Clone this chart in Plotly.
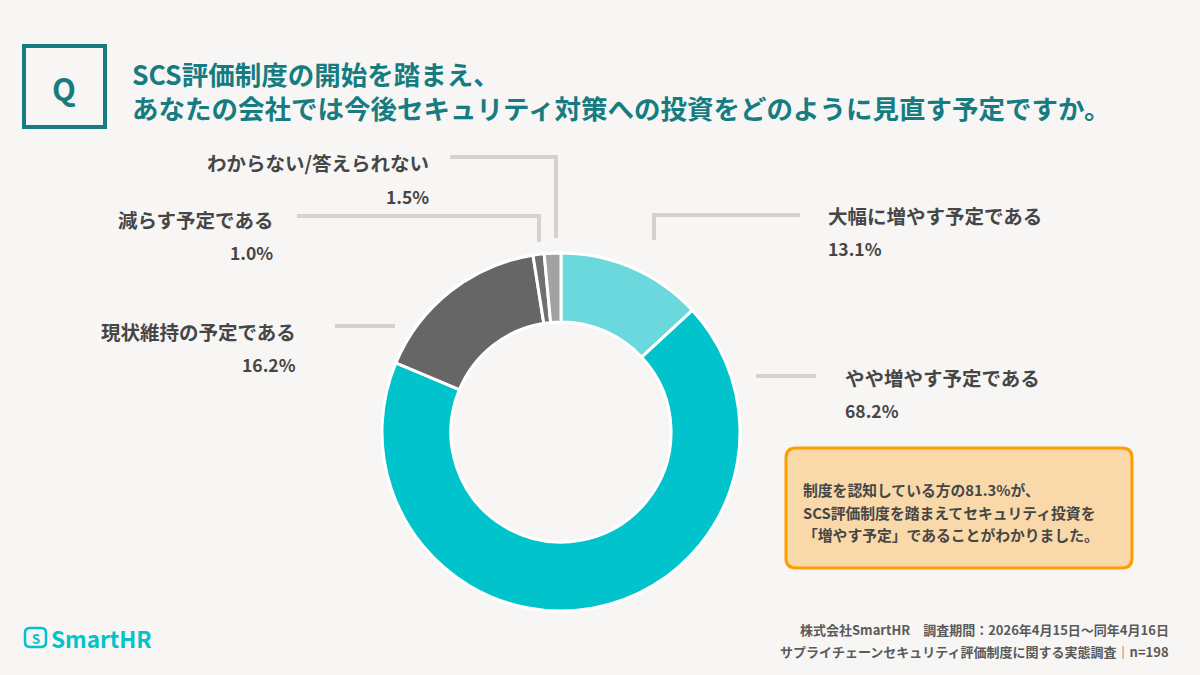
import plotly.graph_objects as go

# data (clockwise from 12 o'clock)
categories = ["大幅に増やす予定である", "やや増やす予定である", "現状維持の予定である",
              "減らす予定である", "わからない/答えられない"]
values = [13.1, 68.2, 16.2, 1.0, 1.5]
colors = ["#6AD8DC", "#00C3CC", "#666666", "#6F6F6F", "#A2A2A2"]
pct_labels = ["13.1%", "68.2%", "16.2%", "1.0%", "1.5%"]

title_lines = ["SCS評価制度の開始を踏まえ、",
               "あなたの会社では今後セキュリティ対策への投資をどのように見直す予定ですか。"]
note_lines = ["制度を認知している方の81.3%が、",
              "SCS評価制度を踏まえてセキュリティ投資を",
              "「増やす予定」であることがわかりました。"]
footer_lines = ["株式会社SmartHR　調査期間：2026年4月15日～同年4月16日",
                "サプライチェーンセキュリティ評価制度に関する実態調査｜n=198"]

W, H = 1200, 675
FONT = "Noto Sans CJK JP"
TEAL = "#167C82"
TEXT = "#464646"
LINE = "#D4D2CF"

fig = go.Figure(go.Pie(
    labels=categories,
    values=values,
    sort=False,
    direction="clockwise",
    rotation=0,
    hole=0.615,
    textinfo="none",
    hoverinfo="label+percent",
    marker=dict(colors=colors, line=dict(color="white", width=3)),
    domain=dict(x=[382 / W, 740 / W], y=[1 - 611 / H, 1 - 253 / H]),
    showlegend=False,
))

shapes = []
annotations = []


def label(x, y, text, size, color, anchor="center"):
    annotations.append(dict(x=x, y=y, xref="x", yref="y", xanchor=anchor, yanchor="middle",
                            text="<b>" + text + "</b>", showarrow=False, align=anchor
                            if anchor != "center" else "center",
                            font=dict(family=FONT, size=size, color=color)))


def rounded(x0, y0, x1, y1, r):
    return (f"M {x0 + r},{y0} L {x1 - r},{y0} Q {x1},{y0} {x1},{y0 + r} "
            f"L {x1},{y1 - r} Q {x1},{y1} {x1 - r},{y1} L {x0 + r},{y1} "
            f"Q {x0},{y1} {x0},{y1 - r} L {x0},{y0 + r} Q {x0},{y0} {x0 + r},{y0} Z")


# Q box
shapes.append(dict(type="rect", xref="x", yref="y", x0=24, x1=105, y0=46, y1=127,
                   line=dict(color=TEAL, width=4)))
label(64, 87, "Q", 31, TEAL)

# two-line question as one block
label(130, 90.5, "<br>".join(title_lines), 26.5, TEAL, "left")

# leader lines (pixel paths)
leaders = [
    [(654, 240), (654, 215), (800, 215)],
    [(756, 376), (816, 376)],
    [(335, 326), (395, 326)],
    [(539, 242), (539, 216), (297, 216)],
    [(556, 238), (556, 157), (450, 157)],
]
for pts in leaders:
    path = "M " + " L ".join(f"{x},{y}" for x, y in pts)
    shapes.append(dict(type="path", xref="x", yref="y", path=path,
                       line=dict(color=LINE, width=4)))

# category labels: (x, anchor, y of name, y of pct)
label_pos = [
    (826, "left", 215, 248),
    (843, "left", 377, 410),
    (298, "right", 331, 364),
    (275, "right", 219, 252),
    (431, "right", 162, 196),
]
for name, pct, (x, anc, y1, y2) in zip(categories, pct_labels, label_pos):
    label(x, y1, name, 19.5, TEXT, anc)
    label(x, y2, pct, 17.5, TEXT, anc)

# callout box
shapes.append(dict(type="path", xref="x", yref="y", path=rounded(786, 448, 1132, 568, 10),
                   fillcolor="#F9D9AA", line=dict(color="#FF9C00", width=3)))
for text, y in zip(note_lines, [489, 512, 534]):
    label(801, y, text, 14.8, TEXT, "left")

# footer
for text, y in zip(footer_lines, [629, 651]):
    label(1171, y, text, 13, "#5A5A5A", "right")

# logo
shapes.append(dict(type="path", xref="x", yref="y", path=rounded(25, 628, 46, 647, 5),
                   line=dict(color="#00C3CC", width=2.5)))
label(35.5, 638, "S", 13, "#00C3CC")
label(49, 638, "SmartHR", 22.5, "#00C3CC", "left")

fig.update_layout(
    width=W, height=H,
    margin=dict(l=0, r=0, t=0, b=0),
    paper_bgcolor="#F7F6F4",
    plot_bgcolor="rgba(0,0,0,0)",
    xaxis=dict(range=[0, W], visible=False, fixedrange=True),
    yaxis=dict(range=[H, 0], visible=False, fixedrange=True),
    shapes=shapes,
    annotations=annotations,
)

fig.write_html("out.html", config={"displayModeBar": False},
               post_script="document.body.style.margin='0';")
